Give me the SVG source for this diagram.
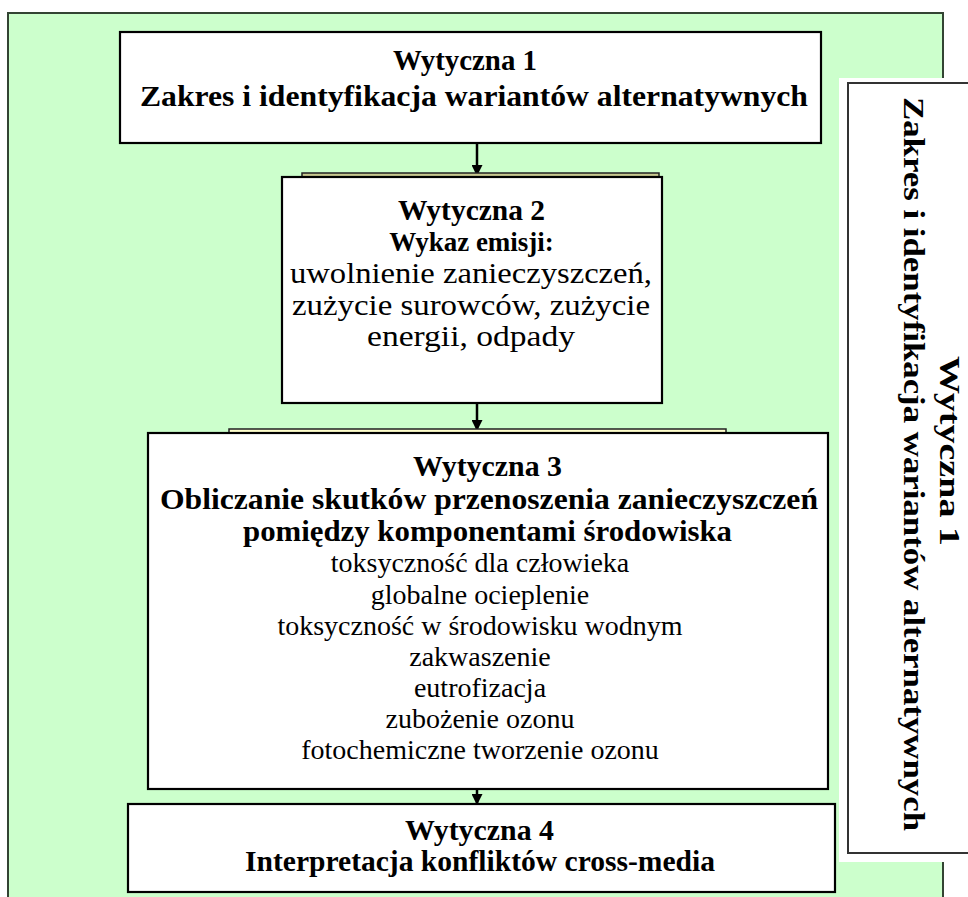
<svg xmlns="http://www.w3.org/2000/svg" width="968" height="897" viewBox="0 0 968 897">
  <style>
    .frame { fill: #ccffcc; stroke: #334433; stroke-width: 2; }
    .box { fill: #ffffff; stroke: #000000; stroke-width: 2.2; }
    .side { fill: #ffffff; stroke: #333333; stroke-width: 2; }
    .tab { stroke: #222222; stroke-width: 1.5; }
    .t { font-family: "Liberation Serif", "Times New Roman", serif; font-size: 28px; fill: #000; text-anchor: middle; }
    .b { font-weight: bold; font-size: 30px; }
    .l { font-size: 30px; }
    .conn { stroke: #000; stroke-width: 2.5; fill: none; marker-end: url(#arrow); }
  </style>
  <defs>
    <marker id="arrow" viewBox="0 0 10 10" refX="9" refY="5" markerWidth="4.4" markerHeight="4.4" orient="auto" markerUnits="strokeWidth">
      <path d="M0,0 L10,5 L0,10 z" fill="#000"/>
    </marker>
  </defs>

  <!-- background panel -->
  <rect class="frame" x="8" y="13" width="935" height="900"/>

  <!-- side panel: rotated title -->
  <g id="side-wytyczna-1">
    <rect x="839" y="78" width="140" height="784" fill="#ffffff"/>
    <rect class="side" x="848" y="83" width="130" height="770"/>
    <text class="t b" transform="translate(940,451) rotate(90)" textLength="190" lengthAdjust="spacingAndGlyphs">Wytyczna 1</text>
    <text class="t b" transform="translate(904,464) rotate(90)" textLength="734" lengthAdjust="spacingAndGlyphs">Zakres i identyfikacja wariantów alternatywnych</text>
  </g>

  <!-- connectors -->
  <g id="connectors">
    <line class="conn" x1="477" y1="143" x2="477" y2="175"/>
    <line class="conn" x1="477" y1="403" x2="477" y2="430"/>
    <line class="conn" x1="477" y1="789" x2="477" y2="804"/>
  </g>

  <g id="wytyczna-1">
    <rect class="box" x="120" y="32" width="701" height="111"/>
    <text class="t b" x="465" y="70" textLength="144" lengthAdjust="spacingAndGlyphs">Wytyczna 1</text>
    <text class="t b" x="474" y="106" textLength="668" lengthAdjust="spacingAndGlyphs">Zakres i identyfikacja wariantów alternatywnych</text>
  </g>

  <g id="wytyczna-2">
    <rect class="tab" x="302" y="173" width="357" height="10" fill="#c8c890"/>
    <rect class="box" x="282" y="177" width="380" height="226"/>
    <text class="t b" x="471.5" y="220" textLength="147" lengthAdjust="spacingAndGlyphs">Wytyczna 2</text>
    <text class="t b" x="471.5" y="251" style="font-size:27px">Wykaz emisji:</text>
    <text class="t l" x="471" y="283" textLength="362" lengthAdjust="spacingAndGlyphs">uwolnienie zanieczyszczeń,</text>
    <text class="t l" x="471" y="315" textLength="358" lengthAdjust="spacingAndGlyphs">zużycie surowców, zużycie</text>
    <text class="t l" x="471" y="346" textLength="208" lengthAdjust="spacingAndGlyphs">energii, odpady</text>
  </g>

  <g id="wytyczna-3">
    <rect class="tab" x="229" y="429" width="497" height="10" fill="#ffffcc"/>
    <rect class="box" x="148" y="433" width="680" height="356"/>
    <text class="t b" x="487.5" y="476" textLength="149" lengthAdjust="spacingAndGlyphs">Wytyczna 3</text>
    <text class="t b" x="489" y="509" textLength="658" lengthAdjust="spacingAndGlyphs">Obliczanie skutków przenoszenia zanieczyszczeń</text>
    <text class="t b" x="487.5" y="541" textLength="489" lengthAdjust="spacingAndGlyphs">pomiędzy komponentami środowiska</text>
    <text class="t" x="480" y="572">toksyczność dla człowieka</text>
    <text class="t" x="480" y="604">globalne ocieplenie</text>
    <text class="t" x="480" y="635">toksyczność w środowisku wodnym</text>
    <text class="t" x="480" y="666">zakwaszenie</text>
    <text class="t" x="480" y="697">eutrofizacja</text>
    <text class="t" x="480" y="728">zubożenie ozonu</text>
    <text class="t" x="480" y="759">fotochemiczne tworzenie ozonu</text>
  </g>

  <g id="wytyczna-4">
    <rect class="box" x="128" y="804" width="707" height="88"/>
    <text class="t b" x="479.5" y="840" textLength="149" lengthAdjust="spacingAndGlyphs">Wytyczna 4</text>
    <text class="t b" x="480" y="871" textLength="470" lengthAdjust="spacingAndGlyphs">Interpretacja konfliktów cross-media</text>
  </g>
</svg>
